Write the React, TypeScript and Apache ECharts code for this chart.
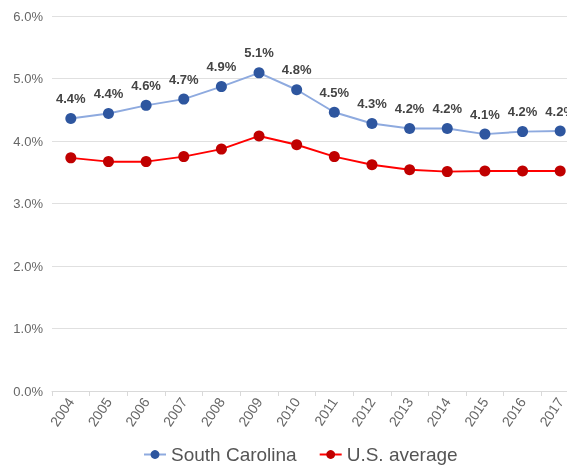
import React, { useEffect, useRef } from "react";
import * as echarts from "echarts";

const years = ["2004","2005","2006","2007","2008","2009","2010","2011","2012","2013","2014","2015","2016","2017"];
const southCarolina = [4.36, 4.44, 4.57, 4.67, 4.87, 5.09, 4.82, 4.46, 4.28, 4.2, 4.2, 4.11, 4.15, 4.16];
const usAverage = [3.73, 3.67, 3.67, 3.75, 3.87, 4.08, 3.94, 3.75, 3.62, 3.54, 3.51, 3.52, 3.52, 3.52];
const yTicks = { min: 0, max: 6, interval: 1 };

export default function App() {
  const ref = useRef<HTMLDivElement>(null);
  useEffect(() => {
    const chart = echarts.init(ref.current!, null, { renderer: "svg" });
    const font = "'Liberation Sans', Arial, Helvetica, sans-serif";
    chart.setOption({
      animation: false,
      textStyle: { fontFamily: font },
      grid: { left: 52, top: 16, height: 375, width: 527, containLabel: false, outerBoundsMode: "none" },
      legend: {
        top: 440,
        left: 138,
        itemWidth: 22,
        itemHeight: 11,
        itemGap: 22,
        textStyle: { fontSize: 19, color: "#555", fontFamily: font },
        data: ["South Carolina", "U.S. average"],
      },
      xAxis: {
        type: "category",
        data: years,
        boundaryGap: true,
        axisLine: { lineStyle: { color: "#d9d9d9" } },
        axisTick: { show: true, length: 5, lineStyle: { color: "#d9d9d9" } },
        axisLabel: { rotate: 56, color: "#666", fontSize: 14, margin: 8, fontFamily: font },
      },
      yAxis: {
        type: "value",
        min: yTicks.min,
        max: yTicks.max,
        interval: yTicks.interval,
        axisLine: { show: false },
        axisTick: { show: false },
        splitLine: { lineStyle: { color: "#e0e0e0" } },
        axisLabel: {
          color: "#666",
          fontSize: 13,
          margin: 9,
          fontFamily: font,
          formatter: (v: number) => v.toFixed(1) + "%",
        },
      },
      series: [
        {
          name: "South Carolina",
          type: "line",
          data: southCarolina,
          symbol: "circle",
          symbolSize: 11,
          itemStyle: { color: "#2e569f" },
          lineStyle: { color: "#8eaadf", width: 2 },
          label: {
            show: true,
            position: "top",
            distance: 8,
            color: "#444",
            fontWeight: "bold",
            fontSize: 13,
            fontFamily: font,
            formatter: (p: any) => p.value.toFixed(1) + "%",
          },
        },
        {
          name: "U.S. average",
          type: "line",
          data: usAverage,
          symbol: "circle",
          symbolSize: 11,
          itemStyle: { color: "#c00000" },
          lineStyle: { color: "#ff0000", width: 2 },
        },
      ],
    });
    return () => chart.dispose();
  }, []);
  return <div ref={ref} style={{ position: "fixed", left: 0, top: 0, width: 567, height: 466 }} />;
}
